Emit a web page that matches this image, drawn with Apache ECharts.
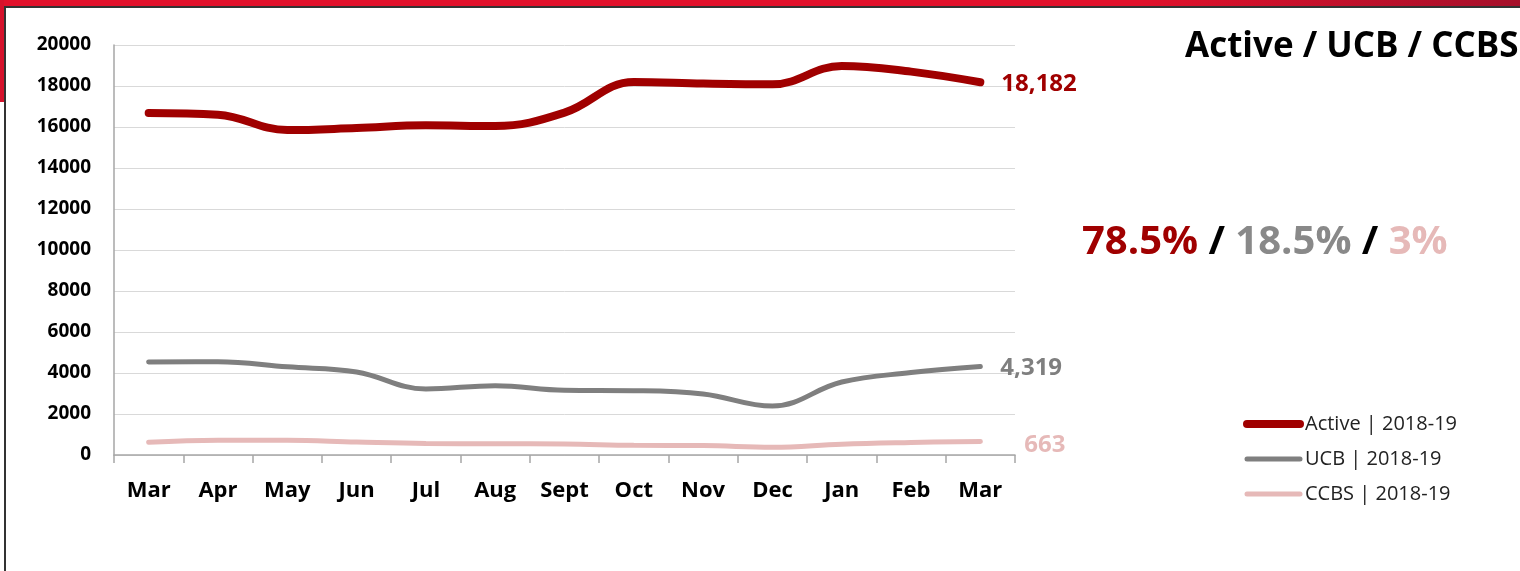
<!DOCTYPE html>
<html>
<head>
<meta charset="utf-8">
<script src="https://cdn.jsdelivr.net/npm/echarts@6/dist/echarts.min.js"></script>
<style>
html,body{margin:0;padding:0;background:#fff;}
#chart{width:1520px;height:571px;}
</style>
</head>
<body>
<div id="chart"></div>
<script>
const categories = ['Mar','Apr','May','Jun','Jul','Aug','Sept','Oct','Nov','Dec','Jan','Feb','Mar'];
const activeValues = [16680, 16600, 15850, 15950, 16080, 16050, 16700, 18200, 18120, 18080, 18980, 18700, 18182];
const ucbValues = [4540, 4550, 4300, 4050, 3220, 3380, 3160, 3140, 2980, 2390, 3560, 4020, 4319];
const ccbsValues = [620, 720, 720, 630, 560, 550, 540, 470, 460, 380, 530, 610, 663];
const yTicks = [0, 2000, 4000, 6000, 8000, 10000, 12000, 14000, 16000, 18000, 20000];
const seriesNames = ['Active | 2018-19', 'UCB | 2018-19', 'CCBS | 2018-19'];
const shareLabels = ['78.5%', '18.5%', '3%'];
const chartTitle = 'Active / UCB / CCBS';

const C_ACTIVE = '#a00000', C_UCB = '#7f7f7f', C_CCBS = '#e6b9b8';
const FONT = 'Open Sans';

const chart = echarts.init(document.getElementById('chart'));
function fmt(v){ return Number(v).toLocaleString('en-US'); }

chart.setOption({
  backgroundColor: '#ffffff',
  animation: false,
  graphic: [
    {type:'rect', shape:{x:0,y:0,width:1520,height:6}, style:{fill: new echarts.graphic.LinearGradient(0,0,1,0,[{offset:0,color:'#e0112b'},{offset:0.75,color:'#e0112b'},{offset:1,color:'#a5102a'}])}},
    {type:'rect', shape:{x:0,y:6,width:1520,height:2}, style:{fill:'#333'}},
    {type:'rect', shape:{x:0,y:0,width:4,height:102}, style:{fill:'#d5122b'}},
    {type:'rect', shape:{x:4,y:6,width:2,height:565}, style:{fill:'#333'}}
  ],
  title: [
    {text: chartTitle, left: 1185, top: 30, padding: 0, textStyle:{fontFamily:FONT, fontWeight:'bold', fontSize:35, color:'#000'}},
    {
      text: '{a|' + shareLabels[0] + '} {s|/} {b|' + shareLabels[1] + '} {s|/} {c|' + shareLabels[2] + '}',
      left: 1082, top: 223, padding: 0,
      textStyle:{
        fontFamily:FONT, fontWeight:'bold', fontSize:40,
        rich:{
          a:{color:C_ACTIVE, fontFamily:FONT, fontWeight:'bold', fontSize:40},
          b:{color:'#898989', fontFamily:FONT, fontWeight:'bold', fontSize:40},
          c:{color:C_CCBS, fontFamily:FONT, fontWeight:'bold', fontSize:40},
          s:{color:'#000', fontFamily:FONT, fontWeight:'bold', fontSize:40}
        }
      }
    }
  ],
  legend: {
    orient: 'vertical',
    left: 1243, top: 414, padding: 0,
    itemWidth: 53, itemHeight: 14, itemGap: 15, itemTextGap: 7,
    itemStyle: {opacity: 0},
    textStyle: {fontFamily:FONT, fontSize:20, color:'#222'},
    data: [
      {name: seriesNames[0], lineStyle:{width:8, cap:'round', color:C_ACTIVE, opacity:1}},
      {name: seriesNames[1], lineStyle:{width:5, cap:'round', color:C_UCB, opacity:1}},
      {name: seriesNames[2], lineStyle:{width:5, cap:'round', color:C_CCBS, opacity:1}}
    ]
  },
  grid: {left:114, right:505, top:45, bottom:116, containLabel:false},
  xAxis: {
    type: 'category',
    data: categories,
    boundaryGap: true,
    axisLine: {show:true, lineStyle:{color:'#a6a6a6', width:1.5}},
    axisTick: {show:true, length:8, lineStyle:{color:'#a6a6a6', width:1.5}},
    axisLabel: {fontFamily:FONT, fontWeight:'bold', fontSize:22, color:'#000', margin:25, interval:0}
  },
  yAxis: {
    type: 'value',
    min: yTicks[0], max: yTicks[yTicks.length-1], interval: yTicks[1]-yTicks[0],
    axisLine: {show:true, lineStyle:{color:'#a6a6a6', width:1.5}},
    axisTick: {show:false},
    splitLine: {show:true, lineStyle:{color:'#d9d9d9', width:1}},
    axisLabel: {fontFamily:FONT, fontWeight:'bold', fontSize:19, color:'#000', margin:23, formatter: v => String(v)}
  },
  series: [
    {
      name: seriesNames[0], type:'line', data: activeValues, smooth:0.4, symbol:'none',
      lineStyle:{color:C_ACTIVE, width:8, cap:'round'}, itemStyle:{color:C_ACTIVE},
      endLabel:{show:true, distance:21, offset:[0,2], formatter:p=>fmt(p.value), fontFamily:FONT, fontWeight:'bold', fontSize:24, color:C_ACTIVE},
      z:3
    },
    {
      name: seriesNames[1], type:'line', data: ucbValues, smooth:0.4, symbol:'none',
      lineStyle:{color:C_UCB, width:5, cap:'round'}, itemStyle:{color:C_UCB},
      endLabel:{show:true, distance:20, offset:[0,2], formatter:p=>fmt(p.value), fontFamily:FONT, fontWeight:'bold', fontSize:24, color:C_UCB},
      z:2
    },
    {
      name: seriesNames[2], type:'line', data: ccbsValues, smooth:0.4, symbol:'none',
      lineStyle:{color:C_CCBS, width:5, cap:'round'}, itemStyle:{color:C_CCBS},
      endLabel:{show:true, distance:44, offset:[0,4], formatter:p=>fmt(p.value), fontFamily:FONT, fontWeight:'bold', fontSize:24, color:C_CCBS},
      z:1
    }
  ]
});
</script>
</body>
</html>
